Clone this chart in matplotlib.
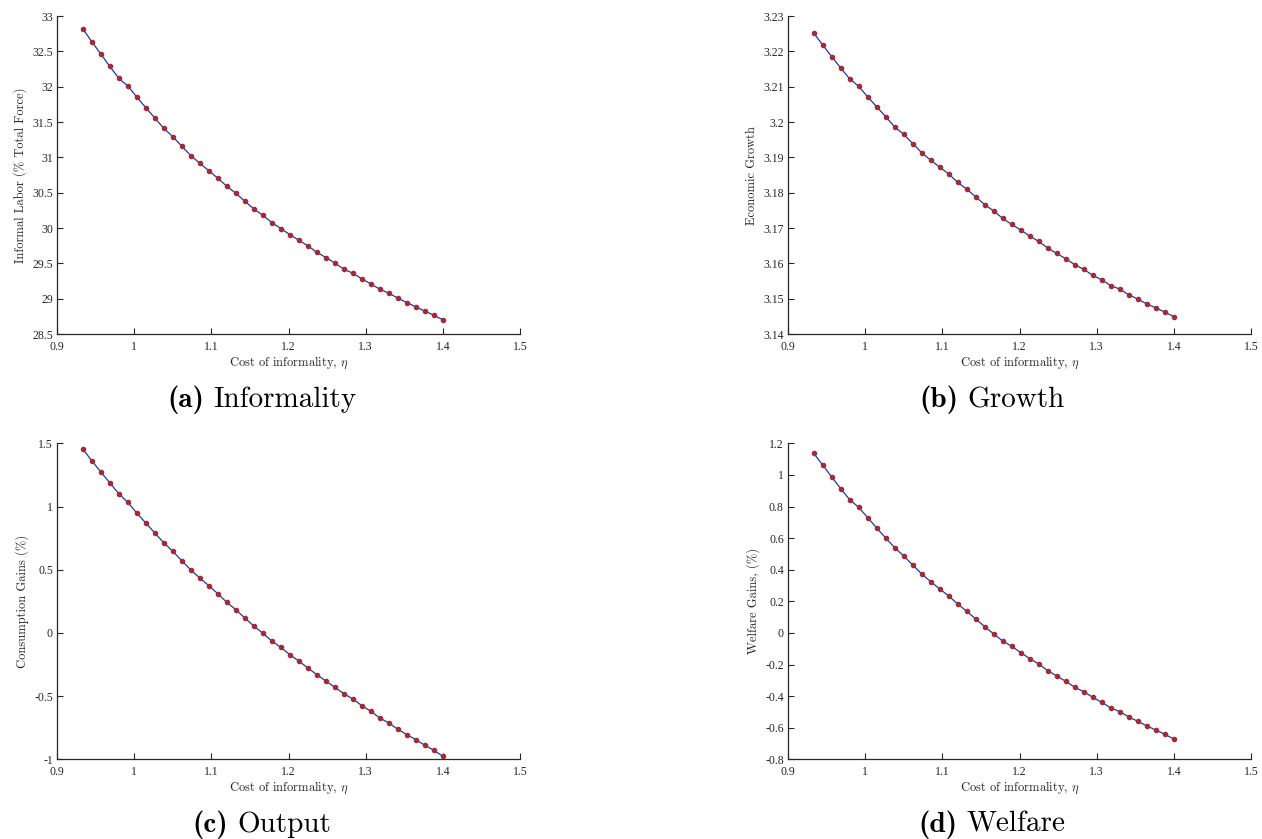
import numpy as np
import matplotlib
matplotlib.use("Agg")
import matplotlib.pyplot as plt
from matplotlib.ticker import FuncFormatter

plt.rcParams["mathtext.fontset"] = "cm"

# cost of informality grid
eta = [0.9333, 0.9450, 0.9567, 0.9683, 0.9800, 0.9917, 1.0033, 1.0150, 1.0267,
       1.0383, 1.0500, 1.0617, 1.0733, 1.0850, 1.0967, 1.1083, 1.1200, 1.1317,
       1.1433, 1.1550, 1.1667, 1.1783, 1.1900, 1.2017, 1.2133, 1.2250, 1.2367,
       1.2483, 1.2600, 1.2717, 1.2833, 1.2950, 1.3067, 1.3183, 1.3300, 1.3417,
       1.3533, 1.3650, 1.3767, 1.3883, 1.4000]

informal_labor = [32.821, 32.637, 32.463, 32.288, 32.118, 32.010, 31.854, 31.703,
                  31.557, 31.411, 31.293, 31.157, 31.025, 30.916, 30.812, 30.704,
                  30.591, 30.492, 30.379, 30.270, 30.181, 30.077, 29.992, 29.907,
                  29.827, 29.747, 29.657, 29.582, 29.506, 29.417, 29.360, 29.280,
                  29.209, 29.134, 29.077, 29.007, 28.945, 28.884, 28.823, 28.766,
                  28.700]

growth = [3.2252, 3.2218, 3.2185, 3.2153, 3.2122, 3.2101, 3.2071, 3.2043, 3.2015,
          3.1986, 3.1965, 3.1939, 3.1913, 3.1892, 3.1872, 3.1853, 3.1829, 3.1810,
          3.1788, 3.1766, 3.1748, 3.1727, 3.1710, 3.1694, 3.1677, 3.1662, 3.1643,
          3.1628, 3.1613, 3.1596, 3.1583, 3.1566, 3.1553, 3.1537, 3.1527, 3.1511,
          3.1499, 3.1485, 3.1474, 3.1462, 3.1449]

consumption = [1.455, 1.3626, 1.2729, 1.1885, 1.1015, 1.0330, 0.9486, 0.8695,
               0.7903, 0.7139, 0.6453, 0.5714, 0.4976, 0.4343, 0.3737, 0.3104,
               0.2418, 0.1838, 0.1179, 0.0546, -0.0034, -0.0641, -0.1142, -0.1722,
               -0.2223, -0.2777, -0.3305, -0.3805, -0.4306, -0.4808, -0.5229,
               -0.5757, -0.6205, -0.6733, -0.7128, -0.7629, -0.8051, -0.8447,
               -0.8895, -0.9290, -0.9765]

welfare = [1.1365, 1.0627, 0.9867, 0.9129, 0.8432, 0.7947, 0.7293, 0.6639, 0.6006,
           0.5394, 0.4867, 0.4297, 0.3728, 0.3242, 0.2778, 0.2335, 0.1829, 0.1365,
           0.0880, 0.0394, -0.0070, -0.0513, -0.0850, -0.1251, -0.1631, -0.1968,
           -0.2391, -0.2728, -0.3065, -0.3445, -0.3720, -0.4078, -0.4394, -0.4753,
           -0.4985, -0.5323, -0.5597, -0.5892, -0.6146, -0.6420, -0.6715]

panels = [
    (informal_labor, "Informal Labor (% Total Force)", np.arange(28.5, 33.01, 0.5), "(a)", "Informality"),
    (growth, "Economic Growth", np.arange(3.14, 3.2301, 0.01), "(b)", "Growth"),
    (consumption, "Consumption Gains (%)", np.arange(-1.0, 1.501, 0.5), "(c)", "Output"),
    (welfare, "Welfare Gains, (%)", np.arange(-0.8, 1.2001, 0.2), "(d)", "Welfare"),
]

# axes boxes in figure fractions
boxes = [
    [0.0452, 0.6019, 0.3669, 0.3790],
    [0.6244, 0.6019, 0.3669, 0.3790],
    [0.0452, 0.0950, 0.3669, 0.3766],
    [0.6244, 0.0950, 0.3669, 0.3766],
]
caption_pos = [(0.2075, 0.523), (0.786, 0.523), (0.2075, 0.017), (0.786, 0.017)]

fig = plt.figure(figsize=(12.62, 8.39), dpi=100)
fmt = FuncFormatter(lambda v, p: "%g" % (round(v, 4) + 0.0))

captions = []
for (vals, ylab, yt, tag, name), box, cpos in zip(panels, boxes, caption_pos):
    ax = fig.add_axes(box)
    ax.plot(eta, vals, color="#23389a", lw=0.9, marker="o", ms=3.0,
            mfc="#a02c3a", mec="#a02c3a", zorder=3)
    ax.set_xlim(0.9, 1.5)
    ax.set_ylim(yt[0], yt[-1])
    ax.set_xticks(np.arange(0.9, 1.501, 0.1))
    ax.set_yticks(yt)
    ax.xaxis.set_major_formatter(fmt)
    ax.yaxis.set_major_formatter(fmt)
    for s in ["top", "right"]:
        ax.spines[s].set_visible(False)
    for s in ["left", "bottom"]:
        ax.spines[s].set_linewidth(0.9)
        ax.spines[s].set_color("#262626")
    ax.tick_params(direction="in", length=4, width=0.8, color="#262626",
                   labelcolor="#262626", labelsize=8.5)
    ax.tick_params(axis="x", pad=5)
    ax.tick_params(axis="y", pad=3)
    for lbl in ax.get_xticklabels() + ax.get_yticklabels():
        lbl.set_fontfamily("Liberation Serif")
    ax.set_xlabel(r"Cost of informality, $\eta$", fontfamily="cmr10",
                  fontsize=9, color="#262626", labelpad=1)
    ax.set_ylabel(ylab, fontfamily="cmr10", fontsize=9, color="#262626",
                  labelpad=4)

    # subfigure caption: bold tag followed by the name
    t1 = fig.text(cpos[0], cpos[1], tag, fontfamily="cmb10", fontsize=21,
                  ha="left", va="center")
    t2 = fig.text(cpos[0], cpos[1], name, fontfamily="cmr10", fontsize=21,
                  ha="left", va="center")
    captions.append((t1, t2, cpos))

# centre each caption pair on its anchor
fig.canvas.draw()
rend = fig.canvas.get_renderer()
W = fig.bbox.width
gap = 9
for t1, t2, cpos in captions:
    w1 = t1.get_window_extent(rend).width
    w2 = t2.get_window_extent(rend).width
    x0 = cpos[0] * W - (w1 + gap + w2) / 2
    t1.set_x(x0 / W)
    t2.set_x((x0 + w1 + gap) / W)

fig.savefig("out.png", dpi=100)
